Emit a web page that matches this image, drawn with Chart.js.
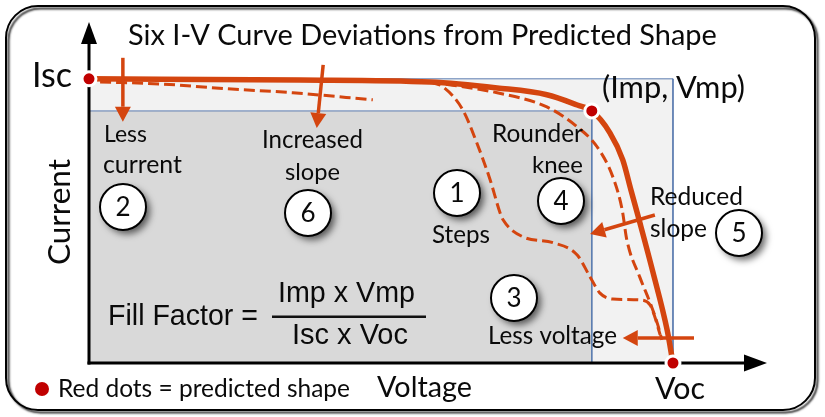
<!DOCTYPE html>
<html><head><meta charset="utf-8">
<script src="https://cdn.jsdelivr.net/npm/chart.js@4.4.0/dist/chart.umd.min.js"></script>
<style>html,body{margin:0;padding:0;background:#fff}#wrap{width:825px;height:417px;position:relative}</style>
</head><body><div id="wrap"><canvas id="c"></canvas></div>
<script>
// ---- Data (normalised: voltage / Voc, current / Isc) ----
const Isc = 1.0, Voc = 1.0, Imp = 0.887, Vmp = 0.861;
const predictedV = [0, 0.361, 0.584, 0.699, 0.784, 0.836, 0.861, 0.892, 0.914, 0.928, 0.943, 0.966, 0.990, 1.0];
const predictedI = [1.0, 0.996, 0.989, 0.968, 0.944, 0.908, 0.887, 0.810, 0.715, 0.609, 0.496, 0.317, 0.116, 0];
const slopeCurrentV = [0.019, 0.122, 0.236, 0.349, 0.486];
const slopeCurrentI = [0.989, 0.982, 0.965, 0.951, 0.926];
const stepsV = [0.584, 0.606, 0.640, 0.664, 0.687, 0.704, 0.709, 0.743, 0.795, 0.836, 0.858, 0.875, 0.897, 0.943, 0.961, 0.969, 0.978];
const stepsI = [0.989, 0.972, 0.891, 0.775, 0.644, 0.528, 0.504, 0.444, 0.423, 0.380, 0.303, 0.246, 0.225, 0.222, 0.204, 0.162, 0.099];
const kneeV = [0.584, 0.699, 0.784, 0.836, 0.870, 0.897, 0.913, 0.921, 0.943, 0.961, 0.974, 0.981];
const kneeI = [0.989, 0.951, 0.901, 0.831, 0.761, 0.655, 0.539, 0.433, 0.303, 0.211, 0.134, 0.081];
const keyPointV = [0, Vmp, Voc];
const keyPointI = [Isc, Imp, 0];

const orange = '#D4450F';
const zip = (xs, ys) => xs.map((x, i) => ({x, y: ys[i]}));

// annotation arrows (data units)
const arrows = [
  {from:[0.058, 1.074], to:[0.058, 0.849]},
  {from:[0.401, 1.049], to:[0.390, 0.827]},
  {from:[0.969, 0.521], to:[0.858, 0.454]},
  {from:[1.036, 0.088], to:[0.914, 0.088]}
];
// text labels: left x, baseline y, target width (px)
const labels = [
  {t:'Six I-V Curve Deviations from Predicted Shape', x:128, y:45, w:589, f:'Lato'},
  {t:'Isc', x:32, y:87, w:40, f:'Lato'},
  {t:'(Imp, Vmp)', x:602, y:98, w:143, f:'Lato'},
  {t:'Voc', x:655, y:399, w:50, f:'Lato'},
  {t:'Voltage', x:377, y:397, w:95, f:'Lato'},
  {t:'Red dots = predicted shape', x:58, y:397, w:292, f:'Lato'},
  {t:'Less', x:104, y:142, w:43, f:'Lato'},
  {t:'current', x:103, y:173, w:79, f:'Lato'},
  {t:'Increased', x:262, y:148, w:101, f:'Lato'},
  {t:'slope', x:285, y:180, w:55, f:'Lato'},
  {t:'Rounder', x:492, y:142, w:91, f:'Lato'},
  {t:'knee', x:532, y:173, w:51, f:'Lato'},
  {t:'Reduced', x:650, y:205, w:93, f:'Lato'},
  {t:'slope', x:650, y:237, w:57, f:'Lato'},
  {t:'Steps', x:432, y:243, w:58, f:'Lato'},
  {t:'Less voltage', x:488, y:344, w:129, f:'Lato'},
  {t:'Fill Factor =', x:108, y:325, w:150, f:'"Liberation Sans"'},
  {t:'Imp x Vmp', x:278, y:302, w:137, f:'"Liberation Sans"'},
  {t:'Isc x Voc', x:292, y:344, w:116, f:'"Liberation Sans"'}
];
const circles = [
  {n:'1', x:457, y:193}, {n:'2', x:123, y:207}, {n:'3', x:514, y:298},
  {n:'4', x:561, y:201}, {n:'5', x:739, y:233}, {n:'6', x:308, y:213}
];

function fitText(ctx, l) {
  ctx.font = '100px ' + l.f;
  const m = ctx.measureText(l.t).width;
  ctx.font = (100 * l.w / m).toFixed(2) + 'px ' + l.f;
  ctx.textAlign = 'left'; ctx.textBaseline = 'alphabetic';
  ctx.fillStyle = '#0a0a0a';
  ctx.fillText(l.t, l.x, l.y);
}
function arrow(ctx, x1, y1, x2, y2) {
  const a = Math.atan2(y2 - y1, x2 - x1), L = 15, W = 8;
  const bx = x2 - L * Math.cos(a), by = y2 - L * Math.sin(a);
  ctx.strokeStyle = orange; ctx.fillStyle = orange; ctx.lineWidth = 3.5;
  ctx.beginPath(); ctx.moveTo(x1, y1); ctx.lineTo(bx, by); ctx.stroke();
  ctx.beginPath(); ctx.moveTo(x2, y2);
  ctx.lineTo(bx + W * Math.sin(a), by - W * Math.cos(a));
  ctx.lineTo(bx - W * Math.sin(a), by + W * Math.cos(a));
  ctx.closePath(); ctx.fill();
}

const deco = {
  id: 'deco',
  beforeDraw(chart) {
    const ctx = chart.ctx;
    ctx.save();
    ctx.fillStyle = '#fff'; ctx.fillRect(0, 0, chart.width, chart.height);
    ctx.shadowColor = 'rgba(0,0,0,0.85)'; ctx.shadowOffsetX = 2.5; ctx.shadowOffsetY = 2.5; ctx.shadowBlur = 2;
    ctx.strokeStyle = '#000'; ctx.lineWidth = 2;
    ctx.beginPath(); ctx.roundRect(6, 6, 809, 404, 32); ctx.stroke();
    ctx.restore();
  },
  afterDatasetDraw(chart, args) {
    if (args.index !== 1) return;
    const ctx = chart.ctx, x0 = chart.scales.x.getPixelForValue(0), y0 = chart.scales.y.getPixelForValue(0);
    const top = chart.chartArea.top, right = chart.chartArea.right;
    ctx.save();
    ctx.strokeStyle = '#000'; ctx.fillStyle = '#000'; ctx.lineWidth = 3;
    ctx.beginPath(); ctx.moveTo(x0, y0 + 1.5); ctx.lineTo(x0, top + 20); ctx.stroke();
    ctx.beginPath(); ctx.moveTo(x0 - 1.5, y0); ctx.lineTo(right - 20, y0); ctx.stroke();
    ctx.beginPath(); ctx.moveTo(x0, top); ctx.lineTo(x0 - 8, top + 22); ctx.lineTo(x0 + 8, top + 22); ctx.closePath(); ctx.fill();
    ctx.beginPath(); ctx.moveTo(right, y0); ctx.lineTo(right - 23, y0 - 8.5); ctx.lineTo(right - 23, y0 + 8.5); ctx.closePath(); ctx.fill();
    ctx.restore();
  },
  afterDatasetsDraw(chart) {
    const ctx = chart.ctx, sx = chart.scales.x, sy = chart.scales.y;
    ctx.save();
    labels.forEach(l => fitText(ctx, l));
    // rotated axis title
    ctx.save(); ctx.translate(70, 265); ctx.rotate(-Math.PI / 2);
    fitText(ctx, {t:'Current', x:0, y:0, w:106, f:'Lato'}); ctx.restore();
    // fraction bar
    ctx.fillStyle = '#111'; ctx.fillRect(272, 315.5, 154, 2.5);
    // legend dot
    ctx.fillStyle = '#C00000'; ctx.beginPath(); ctx.arc(42, 389, 7, 0, Math.PI * 2); ctx.fill();
    // arrows
    arrows.forEach(a => arrow(ctx, sx.getPixelForValue(a.from[0]), sy.getPixelForValue(a.from[1]),
                                  sx.getPixelForValue(a.to[0]), sy.getPixelForValue(a.to[1])));
    // numbered circles
    circles.forEach(c => {
      ctx.save();
      ctx.shadowColor = 'rgba(0,0,0,0.6)'; ctx.shadowBlur = 7; ctx.shadowOffsetX = 4; ctx.shadowOffsetY = 4;
      ctx.fillStyle = '#fff'; ctx.beginPath(); ctx.arc(c.x, c.y, 23, 0, Math.PI * 2); ctx.fill();
      ctx.restore();
      ctx.strokeStyle = '#000'; ctx.lineWidth = 2; ctx.beginPath(); ctx.arc(c.x, c.y, 23, 0, Math.PI * 2); ctx.stroke();
      ctx.fillStyle = '#0a0a0a'; ctx.font = '26px Lato'; ctx.textAlign = 'center'; ctx.textBaseline = 'middle';
      ctx.fillText(c.n, c.x, c.y + 1);
    });
    ctx.restore();
  }
};

const curveStyle = {borderColor:orange, pointRadius:0, cubicInterpolationMode:'monotone', fill:false};
new Chart(document.getElementById('c'), {
  type: 'line',
  data: {
    datasets: [
      {data: [{x:0, y:Isc}, {x:Voc, y:Isc}, {x:Voc, y:0}], fill:'origin', backgroundColor:'#F2F2F2',
       borderColor:'#5B7CB0', borderWidth:1, pointRadius:0, tension:0, order:10},
      {data: [{x:0, y:Imp}, {x:Vmp, y:Imp}, {x:Vmp, y:0}], fill:'origin', backgroundColor:'#D9D9D9',
       borderColor:'#5B7CB0', borderWidth:1, pointRadius:0, tension:0, order:9},
      {data: zip(slopeCurrentV, slopeCurrentI), ...curveStyle, borderWidth:3, borderDash:[11,5], order:4},
      {data: zip(stepsV, stepsI), ...curveStyle, borderWidth:3, borderDash:[11,5], order:4},
      {data: zip(kneeV, kneeI), ...curveStyle, borderWidth:3, borderDash:[11,5], order:4},
      {data: zip(predictedV, predictedI), ...curveStyle, borderWidth:5.5, order:3, clip:false},
      {data: zip(keyPointV, keyPointI), showLine:false, pointRadius:7, pointBackgroundColor:'#C00000',
       pointBorderColor:'#fff', pointBorderWidth:3, order:1, clip:false}
    ]
  },
  options: {
    responsive: true, maintainAspectRatio: false, animation: false, devicePixelRatio: 1,
    layout: {padding: {left: 89, right: 58, top: 22, bottom: 54}},
    scales: {
      x: {type:'linear', min:0, max:1.161, display:false},
      y: {type:'linear', min:0, max:1.2, display:false}
    },
    plugins: {legend:{display:false}, tooltip:{enabled:false}}
  },
  plugins: [deco]
});
</script></body></html>
